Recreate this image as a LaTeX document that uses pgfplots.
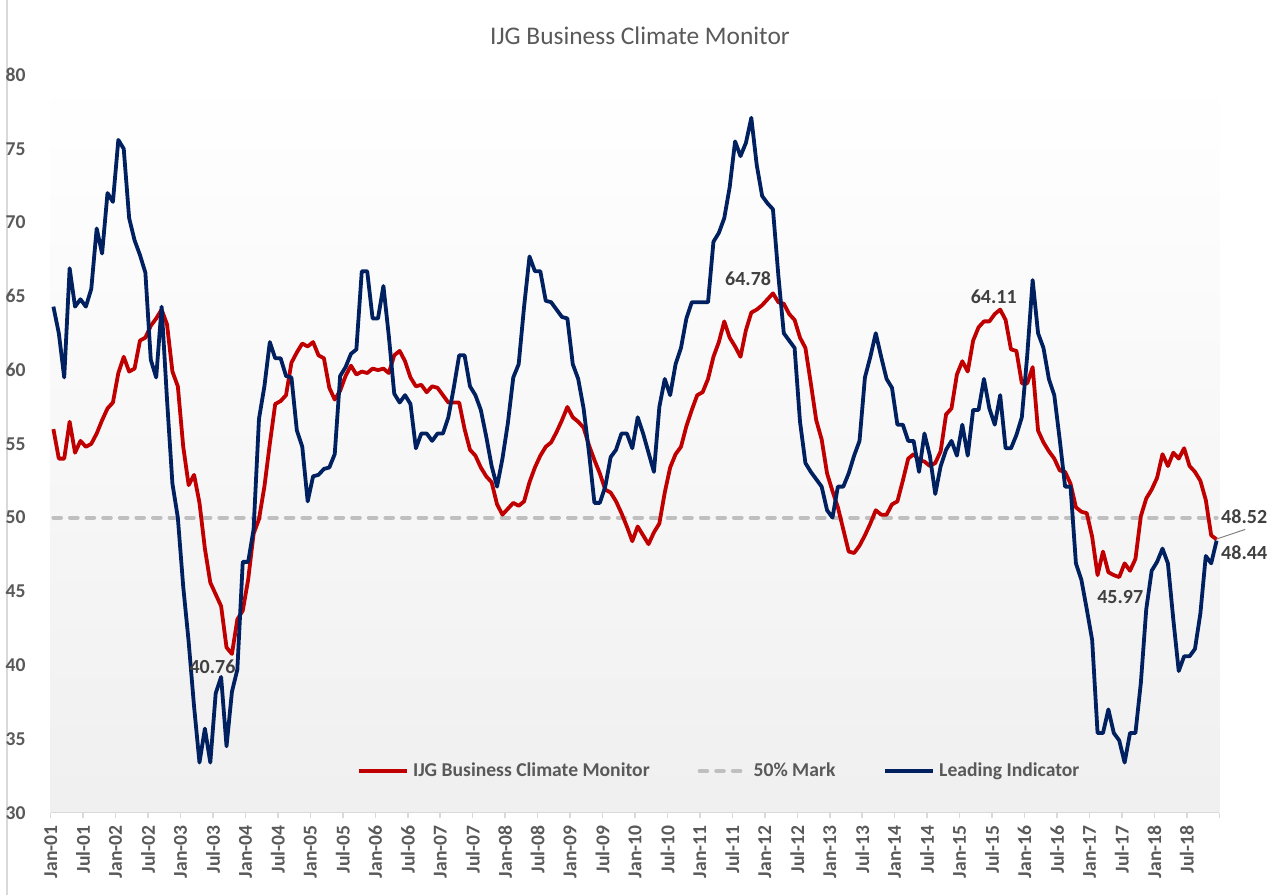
\documentclass[border=0pt]{standalone}
\usepackage{fontspec}
\setmainfont{Carlito}
\usepackage{pgfplots}
\pgfplotsset{compat=1.18}
\usepackage{pgfplotstable}
\definecolor{bcmred}{HTML}{C00000}
\definecolor{leadblue}{HTML}{002060}
\definecolor{markgray}{HTML}{BFBFBF}
\definecolor{txtgray}{HTML}{595959}
\definecolor{lblgray}{HTML}{404040}
\definecolor{axgray}{HTML}{D9D9D9}

\pgfplotstableread{
i bcm lead
0 56.0 64.3
1 54.0 62.5
2 54.0 59.5
3 56.5 66.9
4 54.4 64.3
5 55.2 64.8
6 54.8 64.3
7 55.0 65.5
8 55.7 69.6
9 56.6 67.9
10 57.4 72.0
11 57.8 71.4
12 59.8 75.6
13 60.9 75.0
14 59.9 70.3
15 60.1 68.8
16 62.0 67.8
17 62.2 66.6
18 63.0 60.7
19 63.5 59.5
20 64.1 64.3
21 63.1 58.0
22 59.9 52.3
23 58.9 50.0
24 54.8 45.3
25 52.2 41.6
26 52.9 37.2
27 51.0 33.4
28 47.9 35.7
29 45.6 33.4
30 44.8 38.1
31 44.0 39.2
32 41.2 34.5
33 40.76 38.2
34 43.1 39.7
35 43.7 47.0
36 45.8 47.0
37 48.9 49.2
38 49.9 56.7
39 52.1 58.9
40 55.0 61.9
41 57.7 60.8
42 57.9 60.8
43 58.3 59.6
44 60.5 59.5
45 61.2 55.9
46 61.8 54.8
47 61.6 51.1
48 61.9 52.8
49 61.0 52.9
50 60.8 53.3
51 58.8 53.4
52 58.0 54.3
53 58.6 59.6
54 59.6 60.2
55 60.3 61.1
56 59.7 61.4
57 59.9 66.7
58 59.8 66.7
59 60.1 63.5
60 60.0 63.5
61 60.1 65.7
62 59.8 62.3
63 61.0 58.4
64 61.3 57.8
65 60.6 58.3
66 59.5 57.7
67 58.9 54.7
68 59.0 55.7
69 58.5 55.7
70 58.9 55.2
71 58.8 55.7
72 58.3 55.7
73 57.8 56.8
74 57.8 58.8
75 57.8 61.0
76 56.0 61.0
77 54.6 58.9
78 54.2 58.3
79 53.4 57.3
80 52.8 55.5
81 52.4 53.5
82 50.9 52.1
83 50.2 54.0
84 50.6 56.4
85 51.0 59.5
86 50.8 60.4
87 51.1 64.3
88 52.4 67.7
89 53.4 66.7
90 54.2 66.7
91 54.8 64.7
92 55.1 64.6
93 55.8 64.1
94 56.6 63.6
95 57.5 63.5
96 56.8 60.4
97 56.5 59.4
98 56.1 57.4
99 54.9 54.4
100 53.9 51.0
101 53.0 51.0
102 51.9 52.1
103 51.7 54.1
104 51.1 54.6
105 50.3 55.7
106 49.4 55.7
107 48.4 54.7
108 49.4 56.8
109 48.8 55.7
110 48.2 54.4
111 49.0 53.1
112 49.6 57.5
113 51.7 59.4
114 53.4 58.3
115 54.3 60.4
116 54.8 61.5
117 56.2 63.5
118 57.3 64.6
119 58.3 64.6
120 58.5 64.6
121 59.4 64.6
122 60.9 68.7
123 61.9 69.3
124 63.3 70.3
125 62.2 72.4
126 61.6 75.5
127 60.9 74.5
128 62.7 75.4
129 63.9 77.1
130 64.1 73.9
131 64.4 71.8
132 64.8 71.3
133 65.2 70.9
134 64.6 66.4
135 64.5 62.5
136 63.8 62.0
137 63.4 61.5
138 62.2 56.5
139 61.5 53.7
140 59.1 53.1
141 56.6 52.6
142 55.3 52.1
143 53.0 50.5
144 51.8 50.0
145 50.7 52.1
146 49.2 52.1
147 47.7 53.0
148 47.6 54.2
149 48.1 55.2
150 48.8 59.5
151 49.6 60.9
152 50.5 62.5
153 50.2 60.9
154 50.2 59.4
155 50.9 58.8
156 51.1 56.3
157 52.5 56.3
158 54.0 55.2
159 54.3 55.2
160 53.9 53.1
161 53.8 55.7
162 53.5 54.2
163 53.7 51.6
164 54.5 53.5
165 57.0 54.6
166 57.4 55.2
167 59.7 54.2
168 60.6 56.3
169 59.9 54.2
170 62.0 57.3
171 62.9 57.3
172 63.3 59.4
173 63.3 57.4
174 63.8 56.3
175 64.1 58.3
176 63.4 54.7
177 61.4 54.7
178 61.3 55.6
179 59.1 56.8
180 59.1 61.0
181 60.2 66.1
182 55.9 62.5
183 55.1 61.5
184 54.5 59.4
185 54.0 58.3
186 53.2 55.3
187 53.1 52.1
188 52.3 52.1
189 50.7 46.9
190 50.4 45.8
191 50.3 43.8
192 48.7 41.7
193 46.1 35.4
194 47.7 35.4
195 46.3 37.0
196 46.1 35.4
197 45.97 34.9
198 46.9 33.4
199 46.4 35.4
200 47.2 35.4
201 50.1 38.8
202 51.3 43.8
203 51.9 46.4
204 52.7 47.0
205 54.3 47.9
206 53.5 46.9
207 54.4 43.1
208 54.0 39.6
209 54.7 40.6
210 53.5 40.6
211 53.1 41.1
212 52.5 43.5
213 51.2 47.4
214 48.8 46.9
215 48.52 48.44
}\datatable

\begin{document}
\begin{tikzpicture}
\useasboundingbox (0,0) rectangle (635.5pt,447.5pt);
\draw[axgray, line width=1pt] (3.5pt,0) -- (3.5pt,447.5pt);
\node[anchor=base, font=\fontsize{12.7}{15}\selectfont, text=txtgray] at (320pt,425pt) {IJG Business Climate Monitor};
\begin{axis}[
  at={(25.35pt,41.15pt)}, anchor=south west,
  width=584.3pt, height=368.85pt, scale only axis,
  xmin=-0.5, xmax=215.5, ymin=30, ymax=80,
  clip=false,
  ytick={30,35,...,80},
  xtick={-0.5,5.5,...,215.5},
  xticklabels={Jan-01,Jul-01,Jan-02,Jul-02,Jan-03,Jul-03,Jan-04,Jul-04,Jan-05,Jul-05,Jan-06,Jul-06,Jan-07,Jul-07,Jan-08,Jul-08,Jan-09,Jul-09,Jan-10,Jul-10,Jan-11,Jul-11,Jan-12,Jul-12,Jan-13,Jul-13,Jan-14,Jul-14,Jan-15,Jul-15,Jan-16,Jul-16,Jan-17,Jul-17,Jan-18,Jul-18,{}},
  axis x line*=bottom, axis y line*=left,
  x axis line style={draw=axgray, line width=0.75pt, -},
  y axis line style={draw=none},
  ytick style={draw=none},
  xtick style={draw=axgray, line width=0.75pt},
  tick align=outside, major tick length=2.9pt,
  /pgf/number format/assume math mode=true,
  ticklabel style={font=\bfseries\fontsize{9.8}{12}\selectfont, text=txtgray},
  yticklabel style={xshift=-6.2pt},
  xticklabel style={rotate=90, anchor=east},
  axis background/.style={shade, top color=white, bottom color=black!6},
  legend style={at={(0.573,0.0565)}, anchor=center, draw=none, fill=none,
    legend columns=3, font=\bfseries\fontsize{9.8}{12}\selectfont, text=txtgray,
    /tikz/every even column/.append style={column sep=22pt}},
  legend image code/.code={\draw[#1] (0pt,0pt) -- (24pt,0pt);},
]
\addplot[markgray, line width=2pt, line cap=round, dash pattern=on 3.8pt off 4.5pt, forget plot] coordinates {(0,50) (215,50)};
\addplot[bcmred, line width=1.9pt, line join=round] table[x=i, y=bcm] {\datatable};
\addlegendentry{IJG Business Climate Monitor}
\addlegendimage{markgray, line width=2pt, line cap=round, dash pattern=on 3.8pt off 4.5pt}
\addlegendentry{50\% Mark}
\addplot[leadblue, line width=1.9pt, line join=round] table[x=i, y=lead] {\datatable};
\addlegendentry{Leading Indicator}
\draw[gray, line width=0.5pt] (axis cs:215,48.55) -- (axis cs:220.3,49.2);
\begin{scope}[every node/.style={font=\bfseries\fontsize{10}{12}\selectfont, text=lblgray}]
\node at (axis cs:29.4,39.9) {40.76};
\node at (axis cs:128.4,66.17) {64.78};
\node at (axis cs:173.8,64.96) {64.11};
\node at (axis cs:197.2,44.62) {45.97};
\node at (axis cs:220.1,50.07) {48.52};
\node at (axis cs:220.1,47.6) {48.44};
\end{scope}
\end{axis}
\end{tikzpicture}
\end{document}
